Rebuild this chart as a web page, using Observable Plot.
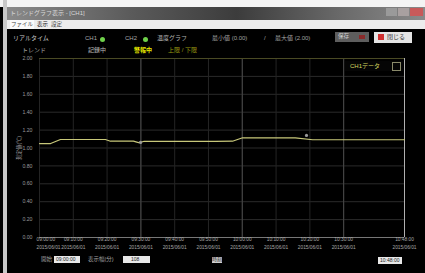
<!DOCTYPE html>
<html>
<head>
<meta charset="utf-8">
<script src="https://cdn.jsdelivr.net/npm/d3@7"></script>
<script src="https://cdn.jsdelivr.net/npm/@observablehq/plot@0.6"></script>
<style>
  html, body { margin: 0; padding: 0; background: #000; }
  #win { position: relative; width: 425px; height: 273px; overflow: hidden; background: #000;
         font-family: "Liberation Sans", "Noto Sans CJK JP", sans-serif; }
  .abs { position: absolute; white-space: nowrap; line-height: 1; }
  #chart { position: absolute; left: 0; top: 0; }
  #chart svg { display: block; }
</style>
</head>
<body>
<div id="win">
  <!-- window frame -->
  <div class="abs" style="left:0;top:0;width:425px;height:7px;background:#f4f4f4"></div>
  <div class="abs" style="left:3px;top:0;width:4px;height:273px;background:#c8c8c8"></div>
  <div class="abs" style="left:7px;top:7px;width:418px;height:13px;background:linear-gradient(90deg,#8a8a8a 0%,#5a5a5a 30%,#3c3c3c 55%,#6a6a6a 80%,#8a8a8a 100%)"></div>
  <div class="abs" style="left:10px;top:10px;font-size:6px;color:#d8d8d8">トレンドグラフ表示 - [CH1]</div>
  <div class="abs" style="left:386px;top:8px;width:11px;height:8px;background:#9a9a9a"></div>
  <div class="abs" style="left:398px;top:8px;width:11px;height:8px;background:#a8a0a0"></div>
  <div class="abs" style="left:410px;top:8px;width:13px;height:8px;background:#c85a5a"></div>
  <div class="abs" style="left:7px;top:20px;width:418px;height:9px;background:#ececec"></div>
  <div class="abs" style="left:10px;top:20px;width:24px;height:9px;background:#fafafa"></div>
  <div class="abs" style="left:11px;top:22px;font-size:5.5px;color:#444">ファイル</div>
  <div class="abs" style="left:37px;top:22px;font-size:5.5px;color:#222">表示</div>
  <div class="abs" style="left:51px;top:22px;font-size:5.5px;color:#444">設定</div>

  <!-- header row 1 -->
  <div class="abs" style="left:13px;top:35px;font-size:6px;color:#c8c8c8">リアルタイム</div>
  <div class="abs" style="left:85px;top:35px;font-size:6px;color:#a8a8a8">CH1</div>
  <div class="abs" style="left:100px;top:37px;width:5px;height:5px;border-radius:50%;background:#6fd14a"></div>
  <div class="abs" style="left:125px;top:35px;font-size:6px;color:#a8a8a8">CH2</div>
  <div class="abs" style="left:143px;top:37px;width:5px;height:5px;border-radius:50%;background:#6fd14a"></div>
  <div class="abs" style="left:157px;top:35px;font-size:6px;color:#b0b0b0">温度グラフ</div>
  <div class="abs" style="left:212px;top:35px;font-size:6px;color:#a0a0a0">最小値 (0.00)</div>
  <div class="abs" style="left:264px;top:35px;font-size:6px;color:#a0a0a0">/</div>
  <div class="abs" style="left:275px;top:35px;font-size:6px;color:#a0a0a0">最大値 (2.00)</div>
  <div class="abs" style="left:335px;top:32px;width:34px;height:10px;background:#5e5e5e"></div>
  <div class="abs" style="left:338px;top:34px;font-size:5.5px;color:#cfcfcf">保存</div>
  <div class="abs" style="left:359px;top:35px;width:6px;height:4px;background:#8a2a2a"></div>
  <div class="abs" style="left:374px;top:32px;width:38px;height:11px;background:#e4e4e4"></div>
  <div class="abs" style="left:378px;top:34px;width:6px;height:6px;background:#d03030"></div>
  <div class="abs" style="left:387px;top:34px;font-size:6px;color:#333">閉じる</div>

  <!-- header row 2 -->
  <div class="abs" style="left:22px;top:47px;font-size:6px;color:#a8a8a8">トレンド</div>
  <div class="abs" style="left:88px;top:47px;font-size:6px;color:#b8b8b8">記録中</div>
  <div class="abs" style="left:134px;top:47px;font-size:6px;font-weight:bold;color:#e8e800">警報中</div>
  <div class="abs" style="left:168px;top:47px;font-size:6px;color:#9a9a10">上限 / 下限</div>

  <!-- legend -->
  <div class="abs" style="left:345px;top:61px;width:58px;height:10px;background:#050505"></div>
  <div class="abs" style="left:350px;top:63px;font-size:6px;color:#d8d860">CH1データ</div>
  <div class="abs" style="left:392px;top:62px;width:7px;height:7px;border:1px solid #8a8a6a"></div>

  <div id="chart"></div>

  <!-- bottom controls -->
  <div class="abs" style="left:41px;top:257px;font-size:5.5px;color:#a0a0a0">開始</div>
  <div class="abs" style="left:54px;top:256px;width:26px;height:7px;background:#e8e8e8"></div>
  <div class="abs" style="left:56px;top:257px;font-size:5px;color:#222">09:00:00</div>
  <div class="abs" style="left:88px;top:257px;font-size:5.5px;color:#a0a0a0">表示幅(分)</div>
  <div class="abs" style="left:123px;top:256px;width:27px;height:7px;background:#e8e8e8"></div>
  <div class="abs" style="left:131px;top:257px;font-size:5px;color:#222">108</div>
  <div class="abs" style="left:212px;top:257px;width:10px;height:6px;background:#cfcfcf"></div>
  <div class="abs" style="left:212px;top:257px;font-size:5px;color:#222">時刻</div>
  <div class="abs" style="left:378px;top:257px;width:24px;height:7px;background:#e8e8e8"></div>
  <div class="abs" style="left:380px;top:258px;font-size:5px;color:#222">10:48:00</div>
</div>

<script>
// ---- data ----
const dateLabel = "2015/06/01";
const timeStamps = ["09:00:00","09:03:18","09:06:12","09:19:30","09:21:00","09:27:48","09:29:18",
                    "09:30:48","09:52:06","09:57:06","10:00:06","10:15:42","10:20:48","10:48:00"];
const values = [1.050,1.050,1.095,1.095,1.076,1.076,1.060,1.073,1.073,1.076,1.114,1.114,1.092,1.092];
const markerTimes = ["09:29:54","10:19:00"];
const markerValues = [1.062,1.140];
const tickTimes = ["09:00:00","09:10:00","09:20:00","09:30:00","09:40:00","09:50:00",
                   "10:00:00","10:10:00","10:20:00","10:30:00","10:48:00"];
const majorTickTimes = ["09:30:00","10:00:00","10:30:00"];
const yTicks = [0,0.2,0.4,0.6,0.8,1.0,1.2,1.4,1.6,1.8,2.0];
const startTime = "09:00:00";
const endTime = "10:48:00";

const parse = s => new Date(`2015-06-01T${s}Z`);
const series = timeStamps.map((t, i) => ({t: parse(t), v: values[i]}));
const markers = markerTimes.map((t, i) => ({t: parse(t), v: markerValues[i]}));
const tickDates = tickTimes.map(parse);
const majorDates = majorTickTimes.map(parse);
const fmtTime = d => d3.utcFormat("%H:%M:%S")(d) + "\n" + dateLabel;
const labelStyle = {frameAnchor: "bottom", dy: 11.5, lineHeight: 1.6, fontSize: 4.8, fill: "#a8a8a8"};

const chart = Plot.plot({
  width: 425,
  height: 273,
  marginLeft: 39,
  marginRight: 21,
  marginTop: 58,
  marginBottom: 36,
  style: {background: "transparent", color: "#9a9a9a", fontFamily: "Liberation Sans, Noto Sans CJK JP, sans-serif"},
  x: {type: "utc", domain: [parse(startTime), parse(endTime)], axis: null},
  y: {domain: [0, 2], axis: null},
  marks: [
    Plot.gridY(yTicks, {stroke: "#2a2a2a", strokeOpacity: 1}),
    Plot.ruleX(tickDates, {stroke: "#242424"}),
    Plot.ruleX(majorDates, {stroke: "#4a4a4a"}),
    Plot.ruleY([2], {stroke: "#4a4a24"}),
    Plot.ruleY([0], {stroke: "#777"}),
    Plot.ruleX([parse(endTime)], {stroke: "#b0b0b0"}),
    Plot.axisY({ticks: yTicks, tickSize: 0, tickPadding: 7, tickFormat: d => d.toFixed(2),
                fontSize: 5.2, fill: "#9a9a9a", label: "測定値(℃)", labelAnchor: "center",
                labelOffset: 22, labelArrow: "none"}),
    Plot.text(tickDates.slice(0, 1), {x: d => d, text: fmtTime, textAnchor: "start", dx: -3, ...labelStyle}),
    Plot.text(tickDates.slice(1), {x: d => d, text: fmtTime, ...labelStyle}),
    Plot.line(series, {x: "t", y: "v", stroke: "#c8c87a", strokeWidth: 1.2}),
    Plot.dot(markers, {x: "t", y: "v", r: 1.6, fill: "#9a9a9a"})
  ]
});
document.getElementById("chart").append(chart);
</script>
</body>
</html>
